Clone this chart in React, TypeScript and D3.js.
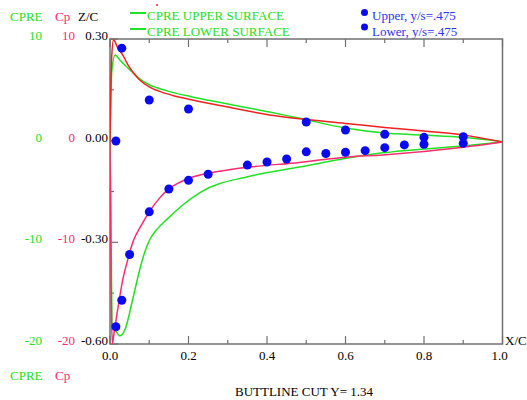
import React from 'react'
import * as d3 from 'd3'

// Cp (red) curves
const cpUpperX = [0, 0.002, 0.004, 0.009, 0.02, 0.033, 0.045, 0.059, 0.075, 0.1, 0.13, 0.16, 0.204, 0.288, 0.407, 0.483, 0.6, 0.7, 0.8, 0.9, 1.0]
const cpUpperVal = [0, 5, 8, 9.9, 9.1, 8.4, 7.5, 6.7, 6.0, 5.3, 4.8, 4.45, 4.05, 3.4, 2.53, 2.15, 1.7, 1.3, 0.95, 0.56, -0.13]
const cpLowerX = [0, 0.001, 0.003, 0.006, 0.01, 0.018, 0.033, 0.046, 0.059, 0.08, 0.1, 0.125, 0.15, 0.175, 0.2, 0.25, 0.3, 0.356, 0.483, 0.606, 0.695, 0.9, 1.0]
const cpLowerVal = [0, -6, -15, -20, -19, -17, -13.6, -11.6, -9.9, -8.3, -7.0, -5.7, -4.75, -4.15, -3.72, -3.2, -2.88, -2.6, -2.14, -1.6, -1.4, -0.65, -0.13]

// CPRE (green) curves
const cpreUpperX = [0, 0.002, 0.005, 0.013, 0.025, 0.043, 0.059, 0.084, 0.1, 0.12, 0.15, 0.204, 0.288, 0.407, 0.483, 0.6, 0.7, 0.8, 0.9, 1.0]
const cpreUpperVal = [0, 4, 7, 8.43, 7.93, 7.24, 6.66, 5.85, 5.5, 5.2, 4.85, 4.35, 3.7, 2.82, 2.2, 1.25, 0.75, 0.55, 0.33, -0.1]
const cpreLowerX = [0, 0.002, 0.005, 0.015, 0.025, 0.038, 0.059, 0.076, 0.089, 0.102, 0.12, 0.145, 0.186, 0.229, 0.356, 0.483, 0.606, 0.695, 0.898, 1.0]
const cpreLowerVal = [0, -5.8, -17.9, -18.7, -19.2, -18.6, -15.4, -12.65, -10.9, -9.7, -8.7, -7.74, -6.3, -5.1, -3.5, -2.6, -1.7, -1.2, -0.52, -0.13]

// test points, y/s = .475
const expUpperX = [0.015, 0.03, 0.1, 0.2, 0.5, 0.6, 0.7, 0.8, 0.9]
const expUpperVal = [-0.03, 9.1, 4.0, 3.12, 1.84, 1.05, 0.63, 0.33, 0.39]
const expLowerX = [0.015, 0.03, 0.05, 0.1, 0.15, 0.2, 0.25, 0.35, 0.4, 0.45, 0.5, 0.55, 0.6, 0.65, 0.7, 0.75, 0.8, 0.9]
const expLowerVal = [-18.3, -15.7, -11.2, -7.0, -4.75, -3.9, -3.3, -2.4, -2.1, -1.8, -1.1, -1.26, -1.14, -0.98, -0.69, -0.42, -0.35, -0.26]

const cpreTicks = ['10', '0', '-10', '-20']
const cpTicks = ['10', '0', '-10', '-20']
const zcTicks = ['0.30', '0.00', '-0.30', '-0.60']
const xTickLabels = ['0.0', '0.2', '0.4', '0.6', '0.8', '1.0']

const GREEN = '#22e022'
const RED = '#ee2020'
const PINK = '#ff2a6e'
const BLUE = '#0a0af0'
const AXIS = '#707070'
const FONT = '"Liberation Serif", "Times New Roman", serif'

export default function App() {
  const left = 110, right = 502.5, top = 39, bottom = 344
  const x = d3.scaleLinear().domain([0, 1]).range([left, right])
  const y = d3.scaleLinear().domain([-20, 10]).range([bottom, top])
  const z = d3.scaleLinear().domain([-0.6, 0.3]).range([bottom, top])

  const line = d3.line<[number, number]>()
    .x(d => x(d[0]))
    .y(d => y(d[1]))
    .curve(d3.curveMonotoneX)
  const zip = (xs: number[], vs: number[]) => xs.map((v, i) => [v, vs[i]] as [number, number])

  const xTicks = d3.range(0, 11).map(i => i / 10)
  const zTicks = d3.range(0, 7).map(i => -0.6 + i * 0.15)
  const zLabelVals = [0.3, 0, -0.3, -0.6]
  const dots = [...zip(expUpperX, expUpperVal), ...zip(expLowerX, expLowerVal)]

  return (
    <svg width={527} height={400} style={{ position: 'absolute', left: 0, top: 0, background: '#fff' }}
      fontFamily={FONT} fontSize={13}>
      <defs>
        <clipPath id="plot">
          <rect x={left} y={top - 2} width={right - left} height={bottom - top + 2} />
        </clipPath>
      </defs>

      {/* header labels */}
      <text x={10} y={21} fill={GREEN}>CPRE</text>
      <text x={55} y={21} fill={PINK}>Cp</text>
      <text x={78} y={21} fill="#000">Z/C</text>

      {/* legend */}
      <line x1={130} x2={146} y1={13} y2={13} stroke={GREEN} strokeWidth={2} />
      <text x={147} y={20} fill={GREEN}>CPRE UPPER SURFACE</text>
      <line x1={130} x2={146} y1={29} y2={29} stroke={GREEN} strokeWidth={2} />
      <text x={147} y={36} fill={GREEN}>CPRE LOWER SURFACE</text>
      <circle cx={157} cy={5} r={1} fill={RED} />
      <circle cx={364.5} cy={12.5} r={3.5} fill={BLUE} />
      <text x={372} y={20} fill="#3030f0">Upper, y/s=.475</text>
      <circle cx={364.5} cy={27} r={3.5} fill={BLUE} />
      <text x={372} y={36} fill="#3030f0">Lower, y/s=.475</text>

      {/* y tick labels: three scales */}
      {zLabelVals.map((v, i) => (
        <g key={i}>
          <text x={42} y={z(v) + 1} textAnchor="end" fill={GREEN}>{cpreTicks[i]}</text>
          <text x={75} y={z(v) + 1} textAnchor="end" fill={PINK}>{cpTicks[i]}</text>
          <text x={108} y={z(v) + 1} textAnchor="end" fill="#000">{zcTicks[i]}</text>
        </g>
      ))}

      {/* frame */}
      <rect x={left} y={top} width={right - left} height={bottom - top} fill="none" stroke={AXIS} strokeWidth={1.5} />
      {xTicks.map((t, i) => {
        const len = i % 2 === 0 ? 8 : 4
        return (
          <g key={i}>
            <line x1={x(t)} x2={x(t)} y1={top} y2={top + len} stroke={AXIS} strokeWidth={1.2} />
            <line x1={x(t)} x2={x(t)} y1={bottom} y2={bottom - len} stroke={AXIS} strokeWidth={1.2} />
          </g>
        )
      })}
      {zTicks.map((t, i) => (
        <line key={i} x1={left} x2={left + (i % 2 === 0 ? 8 : 4)} y1={z(t)} y2={z(t)} stroke={AXIS} strokeWidth={1.2} />
      ))}
      {xTickLabels.map((s, i) => (
        <text key={s} x={x(i * 0.2) - (i === 5 ? 3 : 0)} y={360} textAnchor="middle" fill="#000">{s}</text>
      ))}
      <text x={505} y={345} fill="#000">X/C</text>

      {/* curves */}
      <g clipPath="url(#plot)" fill="none" strokeWidth={1.5}>
        <path d={line(zip(cpreUpperX, cpreUpperVal)) || ''} stroke={GREEN} />
        <path d={line(zip(cpreLowerX, cpreLowerVal)) || ''} stroke={GREEN} />
        <path d={line(zip(cpUpperX, cpUpperVal)) || ''} stroke={RED} />
        <path d={line(zip(cpLowerX, cpLowerVal)) || ''} stroke={PINK} />
      </g>
      {dots.map((d, i) => (
        <circle key={i} cx={x(d[0])} cy={y(d[1])} r={4.5} fill={BLUE} />
      ))}

      {/* footer */}
      <text x={10} y={380} fill={GREEN}>CPRE</text>
      <text x={55} y={380} fill={PINK}>Cp</text>
      <text x={304} y={396} textAnchor="middle" fill="#000">BUTTLINE CUT  Y= 1.34</text>
    </svg>
  )
}
